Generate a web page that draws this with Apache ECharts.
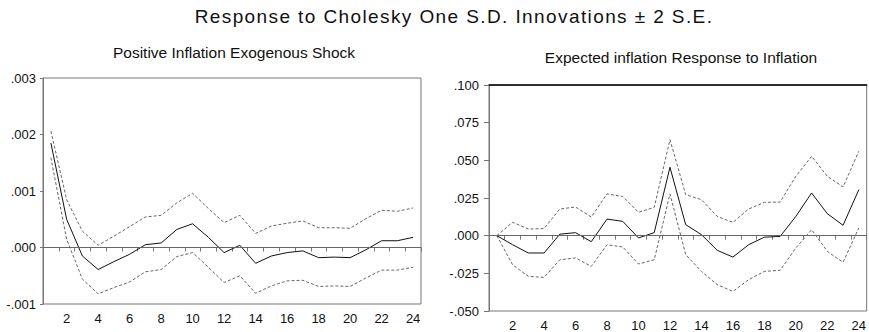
<!DOCTYPE html>
<html>
<head>
<meta charset="utf-8">
<script src="https://cdn.jsdelivr.net/npm/echarts@6/dist/echarts.min.js"></script>
<style>
  html, body { margin: 0; padding: 0; background: #fff; }
  #chart { width: 869px; height: 332px; }
  /* the main title is the only 19px text; EViews draws it widely spaced */
  #chart text[style*="19px"] { letter-spacing: 1.4px; }
</style>
</head>
<body>
<div id="chart"></div>
<script>
"use strict";

const periods = Array.from({ length: 24 }, (_, i) => String(i + 1));

// left panel: positive inflation shock
const shockResp = [0.00185, 0.0005, -0.00015, -0.00039, -0.00025, -0.00012, 0.00005, 0.00008,
  0.00032, 0.00042, 0.00018, -0.00009, 0.00004, -0.00028, -0.00015, -0.00009,
  -0.00006, -0.00018, -0.00017, -0.00018, -0.00004, 0.00012, 0.00012, 0.00018];
const shockUpper = [0.00206, 0.00085, 0.00029, 0.00004, 0.0002, 0.00037, 0.00054, 0.00057,
  0.00079, 0.00096, 0.00069, 0.00044, 0.00057, 0.00025, 0.00038, 0.00043,
  0.00047, 0.00035, 0.00035, 0.00034, 0.00051, 0.00066, 0.00064, 0.0007];
const shockLower = [0.00159, 0.00015, -0.00056, -0.00082, -0.00071, -0.00061, -0.00043, -0.00039,
  -0.00016, -0.00009, -0.00035, -0.00062, -0.0005, -0.00081, -0.00068, -0.00059,
  -0.00058, -0.00069, -0.00068, -0.00069, -0.00054, -0.0004, -0.0004, -0.00035];

// right panel: expected inflation response
const expResp = [0, -0.006, -0.0115, -0.0115, 0.001, 0.002, -0.004, 0.011,
  0.0095, -0.0015, 0.002, 0.0454, 0.0073, 0.0007, -0.0097, -0.0142,
  -0.006, -0.001, -0.0005, 0.0128, 0.0283, 0.0146, 0.0069, 0.0305];
const expUpper = [0, 0.0089, 0.0044, 0.0047, 0.0177, 0.019, 0.0124, 0.0277,
  0.026, 0.0155, 0.0188, 0.0637, 0.0272, 0.0239, 0.0128, 0.0088,
  0.0177, 0.0221, 0.0223, 0.0394, 0.0527, 0.0394, 0.0323, 0.056];
const expLower = [0, -0.0193, -0.027, -0.0277, -0.016, -0.0148, -0.0204, -0.006,
  -0.0075, -0.0188, -0.016, 0.0277, -0.0126, -0.0237, -0.0325, -0.037,
  -0.0292, -0.0237, -0.023, -0.0082, 0.004, -0.0104, -0.0177, 0.0051];

const mainTitle = "Response to Cholesky One S.D. Innovations \u00b1 2 S.E.";
const leftTitle = "Positive Inflation Exogenous Shock";
const rightTitle = "Expected inflation Response to Inflation";

const labelFont = "'Liberation Sans', Arial, sans-serif";

function tickFormat(v) {
  return (v < 0 ? "-" : "") + Math.abs(v).toFixed(3).replace(/^0/, "");
}

function xAxisFor(gridIndex, margin) {
  return {
    type: "category",
    gridIndex,
    data: periods,
    boundaryGap: true,
    axisLine: { lineStyle: { color: "#777" } },
    axisTick: { show: true, interval: 0, length: 4, lineStyle: { color: "#777" } },
    axisLabel: {
      interval: (index) => index % 2 === 1,
      margin,
      color: "#111",
      fontSize: 13,
      fontFamily: labelFont
    },
    splitLine: { show: false }
  };
}

function yAxisFor(gridIndex, min, max, interval, tickLen, margin) {
  return {
    type: "value",
    gridIndex,
    min,
    max,
    interval,
    axisLine: { show: true, lineStyle: { color: "#777" } },
    axisTick: { show: true, length: tickLen, lineStyle: { color: "#777" } },
    axisLabel: {
      formatter: tickFormat,
      margin,
      color: "#111",
      fontSize: 13,
      fontFamily: labelFont
    },
    splitLine: { show: false }
  };
}

function band(data, xi, yi) {
  return {
    type: "line",
    xAxisIndex: xi,
    yAxisIndex: yi,
    data,
    symbol: "none",
    silent: true,
    lineStyle: { color: "#666", width: 1, type: [3, 2] }
  };
}

function response(data, xi, yi) {
  return {
    type: "line",
    xAxisIndex: xi,
    yAxisIndex: yi,
    data,
    symbol: "none",
    silent: true,
    lineStyle: { color: "#111", width: 1 },
    markLine: {
      silent: true,
      symbol: "none",
      label: { show: false },
      lineStyle: { color: "#666", width: 1, type: "solid" },
      data: [{ yAxis: 0 }]
    }
  };
}

const chart = echarts.init(document.getElementById("chart"), null, { renderer: "svg" });

chart.setOption({
  animation: false,
  backgroundColor: "#fff",
  title: [
    {
      text: mainTitle,
      left: 449,
      top: 2,
      textAlign: "center",
      textStyle: { fontFamily: labelFont, fontWeight: "normal", fontSize: 19, color: "#111" }
    },
    {
      text: leftTitle,
      left: 229,
      top: 39,
      textAlign: "center",
      textStyle: { fontFamily: labelFont, fontWeight: "normal", fontSize: 15.5, color: "#111" }
    },
    {
      text: rightTitle,
      left: 676,
      top: 44,
      textAlign: "center",
      textStyle: { fontFamily: labelFont, fontWeight: "normal", fontSize: 15.5, color: "#111" }
    }
  ],
  grid: [
    { left: 43, right: 448, top: 78, bottom: 28, show: true, borderColor: "#777", borderWidth: 1 },
    { left: 489, right: 1, top: 85, bottom: 21, show: true, borderColor: "#777", borderWidth: 1 }
  ],
  xAxis: [
    xAxisFor(0, 8),
    xAxisFor(1, 8),
    {
      type: "category",
      gridIndex: 1,
      position: "top",
      data: periods,
      axisLine: { lineStyle: { color: "#000", width: 1.5 } },
      axisTick: { show: false },
      axisLabel: { show: false }
    }
  ],
  yAxis: [
    yAxisFor(0, -0.001, 0.003, 0.001, 3, 7),
    yAxisFor(1, -0.05, 0.1, 0.025, 5, 10)
  ],
  series: [
    band(shockUpper, 0, 0),
    band(shockLower, 0, 0),
    response(shockResp, 0, 0),
    band(expUpper, 1, 1),
    band(expLower, 1, 1),
    response(expResp, 1, 1)
  ]
});
</script>
</body>
</html>
